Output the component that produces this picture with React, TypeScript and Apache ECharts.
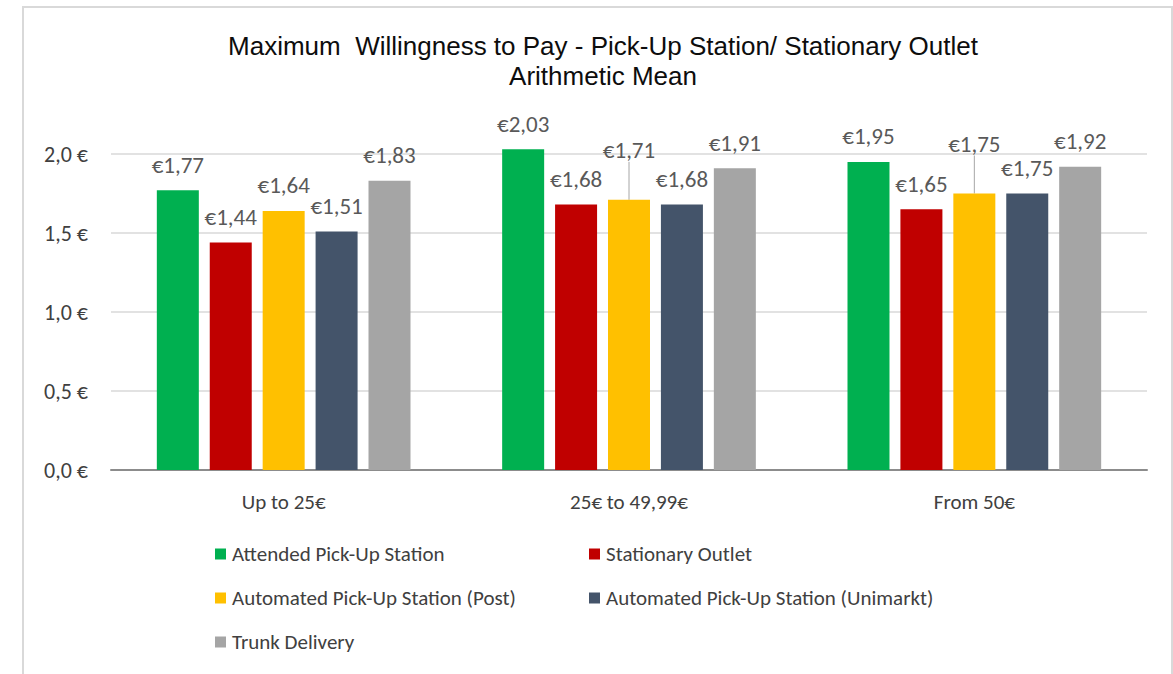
import React, { useEffect, useRef } from "react";
import * as echarts from "echarts";

const categories = ["Up to 25€", "25€ to 49,99€", "From 50€"];
const seriesNames = [
  "Attended Pick-Up Station",
  "Stationary Outlet",
  "Automated Pick-Up Station (Post)",
  "Automated Pick-Up Station (Unimarkt)",
  "Trunk Delivery",
];
const attended = [1.77, 2.03, 1.95];
const stationary = [1.44, 1.68, 1.65];
const automatedPost = [1.64, 1.71, 1.75];
const automatedUnimarkt = [1.51, 1.68, 1.75];
const trunk = [1.83, 1.91, 1.92];
const seriesValues = [attended, stationary, automatedPost, automatedUnimarkt, trunk];
const colors = ["#00B050", "#C00000", "#FFC000", "#44546A", "#A5A5A5"];
// labels lifted with a leader line: [seriesIndex, dataIndex]
const liftedLabels = [
  [2, 1],
  [2, 2],
];

const labelFont = "Carlito, Calibri, Lato, sans-serif";

export default function App() {
  const ref = useRef<HTMLDivElement>(null);
  useEffect(() => {
    const chart = echarts.init(ref.current!, null, { renderer: "svg" });
    const fmt = (v: number) => "€" + v.toFixed(2).replace(".", ",");
    const isLifted = (si: number, di: number) =>
      liftedLabels.some(([s, d]) => s === si && d === di);
    const legendCommon = {
      orient: "vertical",
      top: 543,
      padding: 0,
      itemWidth: 11,
      itemHeight: 11,
      itemGap: 22,
      icon: "rect",
      textStyle: {
        fontFamily: labelFont,
        fontSize: 21,
        color: "#404040",
        lineHeight: 22,
        padding: [0, 0, 0, 1],
      },
    };
    const option: any = {
      animation: false,
      backgroundColor: "#ffffff",
      title: {
        text: "Maximum  Willingness to Pay - Pick-Up Station/ Stationary Outlet\nArithmetic Mean",
        left: 598,
        top: 26,
        textAlign: "center",
        textStyle: {
          fontFamily: "Liberation Sans, Arial, sans-serif",
          fontSize: 26,
          fontWeight: "normal",
          color: "#0d0d0d",
          lineHeight: 30,
        },
      },
      graphic: [
        {
          type: "rect",
          shape: { x: 23, y: 7, width: 1149, height: 720 },
          style: { fill: "none", stroke: "#d9d9d9", lineWidth: 2 },
          silent: true,
        },
      ],
      legend: [
        { ...legendCommon, left: 215, data: [seriesNames[0], seriesNames[2], seriesNames[4]] },
        { ...legendCommon, left: 589, data: [seriesNames[1], seriesNames[3]] },
      ],
      grid: { left: 111, right: 26, top: 154, bottom: 204, containLabel: false },
      xAxis: {
        type: "category",
        data: categories,
        axisTick: { show: false },
        axisLine: { lineStyle: { color: "#8c8c8c", width: 2 } },
        axisLabel: { fontFamily: labelFont, fontSize: 21, color: "#404040", margin: 21 },
      },
      yAxis: {
        type: "value",
        min: 0,
        max: 2.0,
        interval: 0.5,
        axisLine: { show: false },
        axisTick: { show: false },
        splitLine: { lineStyle: { color: "#d9d9d9", width: 1.5 } },
        axisLabel: {
          fontFamily: labelFont,
          fontSize: 22,
          color: "#404040",
          margin: 23,
          formatter: (v: number) => v.toFixed(1).replace(".", ",") + " €",
        },
      },
      series: seriesNames.map((name, si) => ({
        name,
        type: "bar",
        data: seriesValues[si].map((v, di) =>
          isLifted(si, di)
            ? { value: v, labelLine: { show: true, lineStyle: { color: "#a6a6a6", width: 1 } } }
            : { value: v, labelLine: { show: false } }
        ),
        barWidth: 42,
        barGap: "26%",
        clip: false,
        itemStyle: { color: colors[si] },
        label: {
          show: true,
          position: "top",
          distance: 14,
          fontFamily: labelFont,
          fontSize: 23,
          color: "#595959",
          formatter: (p: any) => fmt(p.value),
        },
        labelLine: { show: false },
        labelLayout: (p: any) => (isLifted(si, p.dataIndex) ? { dy: -24 } : {}),
      })),
    };
    chart.setOption(option);
    return () => chart.dispose();
  }, []);
  return (
    <div
      ref={ref}
      style={{ position: "absolute", left: 0, top: 0, width: 1173, height: 674 }}
    />
  );
}
